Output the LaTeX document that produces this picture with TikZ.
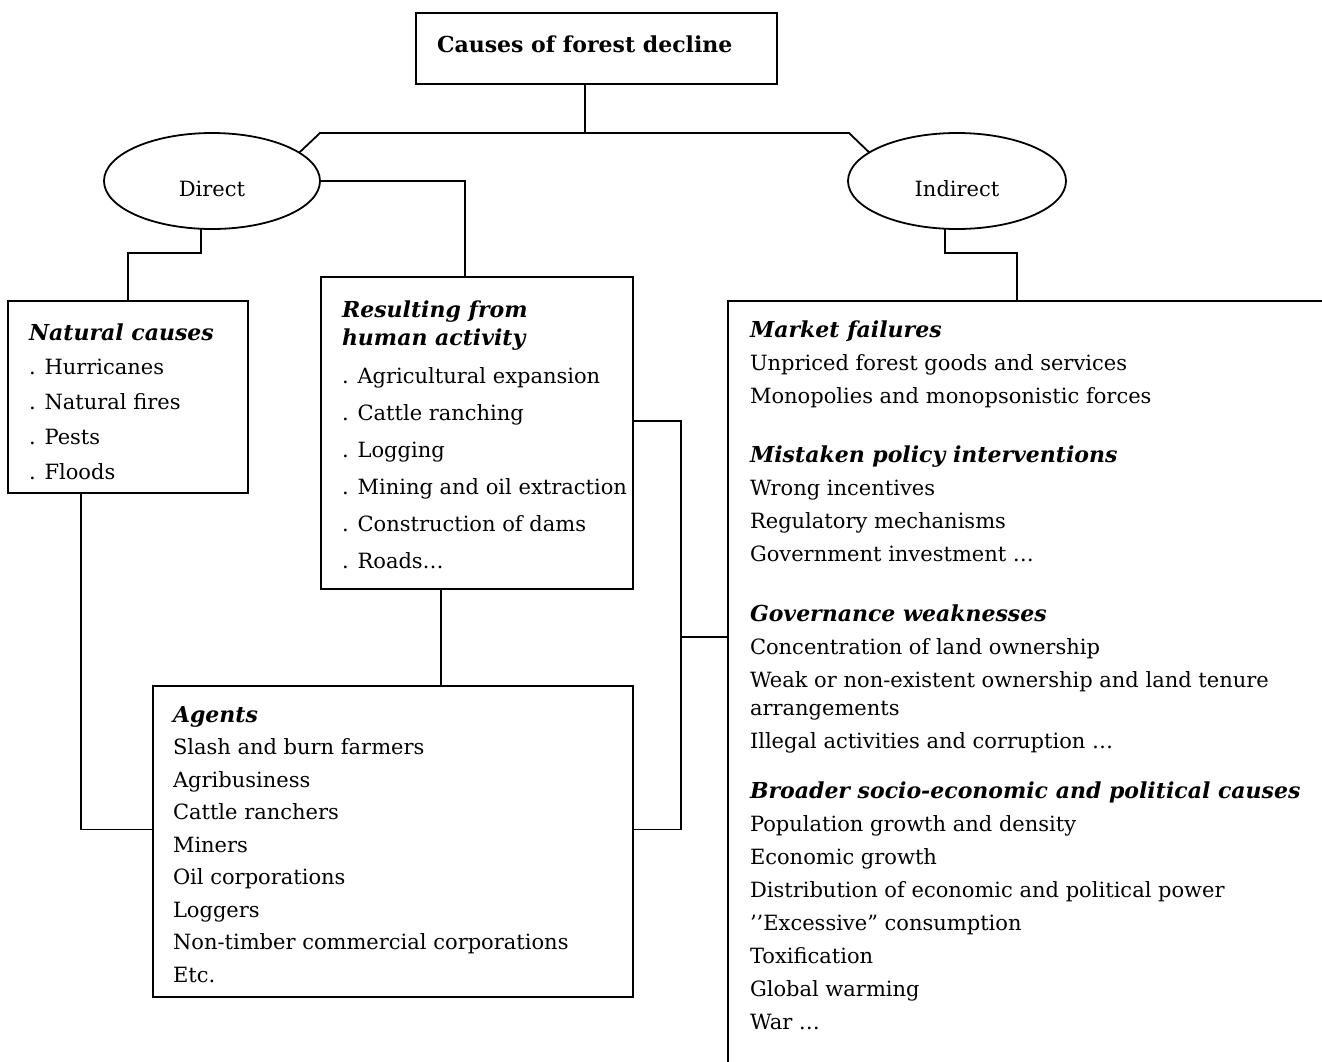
\documentclass[tikz,border=0pt]{standalone}
\usepackage{fontspec}
\setmainfont{DejaVu Serif}
\usetikzlibrary{shapes.geometric,positioning}

% box contents: left pad, text width, height, first baseline, lines
\newcommand{\panelbox}[5]{\hspace*{#1}\parbox[t][#3][t]{#2}{\rule{0pt}{#4}#5}}
\newcommand{\hd}[1]{{\fontsize{22pt}{22pt}\selectfont\bfseries\itshape #1}}

\begin{document}
\begin{tikzpicture}
  [x=1pt,y=-1pt,line width=1.8pt,font=\fontsize{21pt}{33pt}\selectfont]
  \tikzstyle{panel}=[draw,anchor=north west,inner sep=0pt,outer sep=0pt]
  \tikzstyle{oval}=[draw,ellipse,minimum height=96pt,inner sep=0pt,outer sep=0pt,
    text height=30pt,text depth=0pt]

  \useasboundingbox (0,0) rectangle (1322,1061);
  \clip (0,0) rectangle (1322,1061);

  \node[panel] (title) at (416,13)
    {\panelbox{21pt}{340pt}{71pt}{39pt}{\fontsize{22pt}{26pt}\selectfont\bfseries Causes of forest decline}};

  \node[oval,minimum width=216pt] (direct) at (212,181) {Direct};
  \node[oval,minimum width=218pt] (indirect) at (957,181) {Indirect};

  \node[panel,font=\fontsize{21pt}{34.75pt}\selectfont] (natural) at (8,301)
    {\panelbox{21pt}{219pt}{192pt}{39pt}{%
      \hd{Natural causes}\\
      . Hurricanes\\
      . Natural fires\\
      . Pests\\
      . Floods}};

  \node[panel,font=\fontsize{21pt}{37pt}\selectfont] (human) at (321,277)
    {\panelbox{21pt}{291pt}{312pt}{40pt}{%
      \hd{Resulting from}\\[-9pt]
      \hd{human activity}\\[1pt]
      . Agricultural expansion\\
      . Cattle ranching\\
      . Logging\\
      . Mining and oil extraction\\
      . Construction of dams\\
      . Roads…}};

  \node[panel,font=\fontsize{21pt}{32.5pt}\selectfont] (agents) at (153,686)
    {\panelbox{20pt}{460pt}{311pt}{36pt}{%
      \hd{Agents}\\
      Slash and burn farmers\\
      Agribusiness\\
      Cattle ranchers\\
      Miners\\
      Oil corporations\\
      Loggers\\
      Non-timber commercial corporations\\
      Etc.}};

  \node[panel] (indirectbox) at (728,301)
    {\panelbox{22pt}{600pt}{800pt}{36pt}{%
      \hd{Market failures}\\
      Unpriced forest goods and services\\
      Monopolies and monopsonistic forces\\[26pt]
      \hd{Mistaken policy interventions}\\
      Wrong incentives\\
      Regulatory mechanisms\\
      Government investment …\\[27pt]
      \hd{Governance weaknesses}\\
      Concentration of land ownership\\
      Weak or non-existent ownership and land tenure\\[-5pt]
      arrangements\\
      Illegal activities and corruption …\\[17pt]
      \hd{Broader socio-economic and political causes}\\
      Population growth and density\\
      Economic growth\\
      Distribution of economic and political power\\
      ’’Excessive” consumption\\
      Toxification\\
      Global warming\\
      War …}};

  % top level split
  \draw ([xshift=-11.5pt]title.south) -- (585,133) coordinate (bus);
  \draw (direct.18) -- ([xshift=-265pt]bus) -- ([xshift=264pt]bus) -- (indirect.162);

  % direct causes
  \draw (direct.east) -| ([xshift=144pt]human.north west);
  \draw ([xshift=-11pt]direct.south) -- ++(0,24) -| (natural.north);

  % indirect causes
  \draw ([xshift=-12pt]indirect.south) -- ++(0,24) -| ([xshift=289pt]indirectbox.north west);

  % agents
  \draw ([xshift=-47pt]natural.south) |- ([yshift=12pt]agents.west);
  \draw ([xshift=-36pt]human.south) -- ([xshift=-36pt]human.south |- agents.north);
  \draw ([yshift=12pt]human.east) -- ++(48,0) |- ([yshift=12pt]agents.east);
  \coordinate (split) at (681,637);
  \draw (split) -- (split -| indirectbox.west);
\end{tikzpicture}
\end{document}
